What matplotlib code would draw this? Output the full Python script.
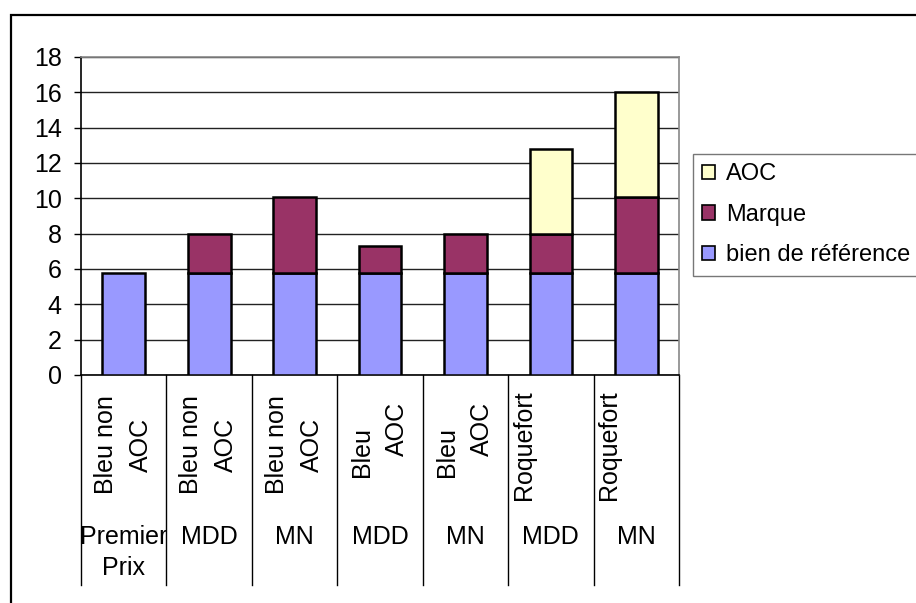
import matplotlib
matplotlib.use("Agg")
import matplotlib.pyplot as plt
from matplotlib.patches import Rectangle, Patch
import matplotlib.transforms as mtransforms

plt.rcParams['font.family'] = ['Liberation Sans', 'DejaVu Sans']

products = ["Bleu non\nAOC", "Bleu non\nAOC", "Bleu non\nAOC", "Bleu\nAOC", "Bleu\nAOC", "Roquefort", "Roquefort"]
brands = ["Premier\nPrix", "MDD", "MN", "MDD", "MN", "MDD", "MN"]
bien_ref = [5.8, 5.8, 5.8, 5.8, 5.8, 5.8, 5.8]
marque = [0, 2.2, 4.3, 1.5, 2.2, 2.2, 4.3]
aoc = [0, 0, 0, 0, 0, 4.8, 5.9]
series_names = ["bien de référence", "Marque", "AOC"]
colors = ["#9999FF", "#993366", "#FFFFCC"]
yticks = [0, 2, 4, 6, 8, 10, 12, 14, 16, 18]

W, H = 916, 603
fig = plt.figure(figsize=(W / 100, H / 100), dpi=100)
FS = 18
PX = 72 / 100  # points per pixel

L, R, T, B = 81, 679, 57, 375
ax = fig.add_axes([L / W, 1 - B / H, (R - L) / W, (B - T) / H])

n = len(products)
x = list(range(n))
bw = 0.5
bottoms2 = [a + b for a, b in zip(bien_ref, marque)]
for vals, bots, c in [(bien_ref, [0] * n, colors[0]), (marque, bien_ref, colors[1]), (aoc, bottoms2, colors[2])]:
    for xi, v, b0 in zip(x, vals, bots):
        if v > 0:
            ax.bar(xi, v, bottom=b0, width=bw, color=c, edgecolor="black", linewidth=1.8, zorder=3)

ax.set_xlim(-0.5, n - 0.5)
ax.set_ylim(0, 18)
ax.set_yticks(yticks)
ax.set_yticklabels([str(t) for t in yticks], fontsize=FS)
ax.tick_params(axis='y', direction='out', length=5, width=1, pad=9)
ax.set_xticks([])
ax.yaxis.grid(True, color="#222222", linewidth=1.0, zorder=0)
ax.set_axisbelow(True)
for s in ["top", "right"]:
    ax.spines[s].set_color("#888888")
    ax.spines[s].set_linewidth(1.2)
for s in ["left", "bottom"]:
    ax.spines[s].set_color("black")
    ax.spines[s].set_linewidth(1.2)

# multi-level category axis
trans = mtransforms.blended_transform_factory(ax.transData, fig.transFigure)
y_top = 1 - B / H
y_bot = 1 - 585 / H
for k in range(n + 1):
    ax.plot([k - 0.5, k - 0.5], [y_top, y_bot], transform=trans, color="black",
            linewidth=1.0, clip_on=False)

# per-line placement of rotated product labels (offsets in pixels)
line_dx = {1: [-27], 2: [-18, 17]}
line_dy = {"Bleu\nAOC": [7, -16]}
for xi, p, b in zip(x, products, brands):
    lines = p.split("\n")
    dys = line_dy.get(p, [0] * len(lines))
    for ln, dx, dy in zip(lines, line_dx[len(lines)], dys):
        tr = mtransforms.offset_copy(trans, fig=fig, x=dx * PX, y=-dy * PX, units="points")
        ax.text(xi, 1 - 445 / H, ln, transform=tr, rotation=90, ha="center", va="center",
                fontsize=FS, rotation_mode="anchor")
    ax.text(xi, 1 - 525 / H, b, transform=trans, ha="center", va="top",
            multialignment="center", fontsize=FS, linespacing=1.35)

# outer border
fig.patches.append(Rectangle((11 / W, -0.05), 1.1, 1 - 15 / H + 0.05, transform=fig.transFigure,
                             fill=False, edgecolor="black", linewidth=1.6))

handles = [Patch(facecolor=colors[i], edgecolor="black", linewidth=1.2) for i in [2, 1, 0]]
labels = [series_names[i] for i in [2, 1, 0]]
leg = fig.legend(handles, labels, loc="upper left", bbox_to_anchor=(693 / W, 1 - 154 / H),
                 fontsize=17, frameon=True, fancybox=False, handlelength=0.55, handleheight=0.55,
                 handletextpad=0.45, labelspacing=0.78, borderpad=0.4, borderaxespad=0)
leg.get_frame().set_edgecolor("#555555")
leg.get_frame().set_linewidth(1.0)

fig.savefig("out.png", dpi=100)
